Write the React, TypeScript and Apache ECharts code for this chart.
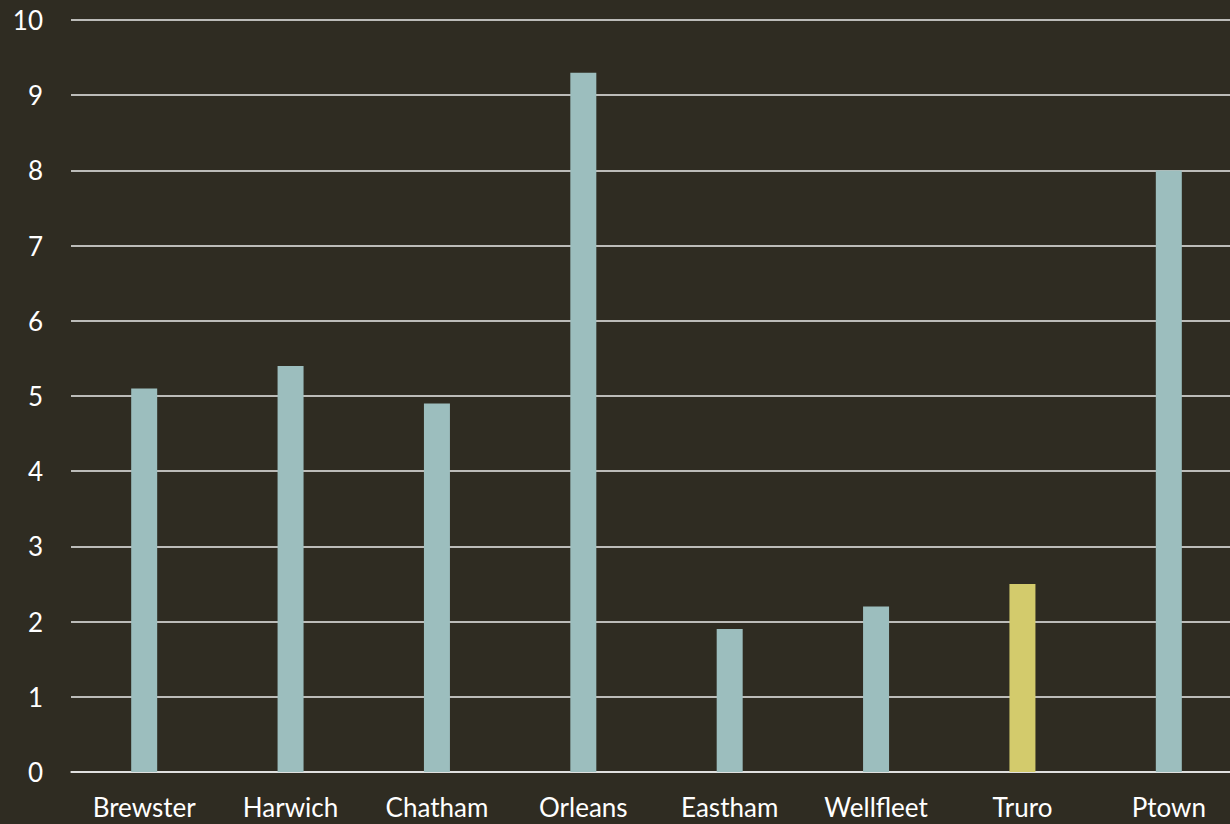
import React, { useEffect, useRef } from "react";
import * as echarts from "echarts";

const categories = ["Brewster", "Harwich", "Chatham", "Orleans", "Eastham", "Wellfleet", "Truro", "Ptown"];
const values = [5.1, 5.4, 4.9, 9.3, 1.9, 2.2, 2.5, 8];
const highlight = "Truro";
const yTicks = [0, 1, 2, 3, 4, 5, 6, 7, 8, 9, 10];

const BG = "#2f2c22";
const BAR = "#9cbebe";
const HI = "#d3cb6c";
const LINE = "#ececec";
const FONT = "Lato, 'Open Sans', sans-serif";

export default function App() {
  const ref = useRef<HTMLDivElement>(null);
  useEffect(() => {
    if (!ref.current) return;
    const chart = echarts.init(ref.current, null, { renderer: "svg" });
    chart.setOption({
      animation: false,
      backgroundColor: BG,
      grid: {
        left: 71,
        top: 20,
        width: 1171,
        height: 752,
        containLabel: false,
        outerBoundsMode: "none",
      },
      xAxis: {
        type: "category",
        data: categories,
        axisLine: { show: true, lineStyle: { color: LINE, width: 1.5 } },
        axisTick: { show: false },
        axisLabel: { color: "#ffffff", fontSize: 26, fontFamily: FONT, margin: 22, interval: 0 },
      },
      yAxis: {
        type: "value",
        min: yTicks[0],
        max: yTicks[yTicks.length - 1],
        interval: 1,
        axisLine: { show: false },
        axisTick: { show: false },
        axisLabel: { color: "#ffffff", fontSize: 26, fontFamily: FONT, margin: 28 },
        splitLine: { show: true, lineStyle: { color: LINE, width: 1.5 } },
      },
      series: [
        {
          type: "bar",
          barWidth: 26,
          data: values.map((v, i) => ({
            value: v,
            itemStyle: { color: categories[i] === highlight ? HI : BAR },
          })),
        },
      ],
    });
    return () => chart.dispose();
  }, []);
  return (
    <div
      ref={ref}
      style={{ position: "absolute", left: 0, top: 0, width: 1230, height: 824, overflow: "hidden" }}
    />
  );
}
